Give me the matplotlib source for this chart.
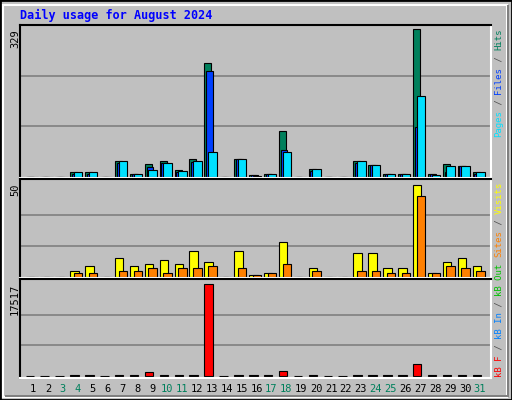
import matplotlib
matplotlib.use("Agg")
from matplotlib import pyplot as plt
from matplotlib.patches import Rectangle
import numpy as np

days = list(range(1, 32))
weekend = [3, 4, 10, 11, 17, 18, 24, 25, 31]

hits  = [0,0,0,10,10,0,34,7,28,34,14,39,253,0,39,3,7,103,0,16,0,0,36,25,7,7,329,5,28,23,10]
files = [0,0,0,7,5,0,30,5,21,30,10,32,235,0,39,3,5,59,0,12,0,0,30,25,7,7,110,5,10,23,7]
pages = [0,0,0,10,10,0,34,7,14,30,12,34,54,0,39,2,5,54,0,16,0,0,36,25,7,7,179,4,23,23,10]
visits = [0,0,0,3,6,0,10,6,7,9,7,14,8,0,14,1,2,19,0,5,0,0,13,13,5,5,50,2,8,10,6]
sites  = [0,0,0,2,2,0,3,3,5,2,5,5,6,0,5,1,2,7,0,3,0,0,3,3,2,2,44,2,6,5,3]
kbytes = [0,0,0,150,150,0,150,150,640,150,150,150,17517,0,150,150,150,830,0,150,0,0,150,150,150,150,2240,150,150,150,150]

W, H = 512, 400
fig = plt.figure(figsize=(5.12, 4.0), dpi=100)
fig.patch.set_facecolor("#C0C0C0")
mono = "DejaVu Sans Mono"

# bevelled outer frame
fig.patches.append(Rectangle((0, 0), 1, 1, transform=fig.transFigure, fill=False, ec="black", lw=2))
fig.patches.append(Rectangle((3/W, 3/H), 1-8/W, 1-8/H, transform=fig.transFigure, fill=False, ec="white", lw=1.5))
fig.patches.append(Rectangle((5/W, 3/H), 1-8/W, 2/H, transform=fig.transFigure, color="#808080", lw=0))
fig.patches.append(Rectangle((1-5/W, 3/H), 2/W, 1-8/H, transform=fig.transFigure, color="#808080", lw=0))

x0, x1 = 20, 491
def day_x(px):
    return 1 + (px - 33) / 14.9
xlim = (day_x(x0), day_x(x1))

def make_ax(top, bottom, ylim, grid):
    ax = fig.add_axes([x0/W, (H-bottom)/H, (x1-x0)/W, (bottom-top)/H])
    ax.set_facecolor("#C0C0C0")
    ax.set_xlim(*xlim)
    ax.set_ylim(*ylim)
    ax.set_xticks([]); ax.set_yticks([])
    for g in grid:
        ax.axhline(g, color="#808080", lw=1.2, zorder=0)
    ax.spines["top"].set_color("black"); ax.spines["left"].set_color("black")
    ax.spines["bottom"].set_color("white"); ax.spines["right"].set_color("white")
    for s in ax.spines.values():
        s.set_linewidth(1.5)
    return ax

d = np.array(days)
ax1 = make_ax(25, 178, (-3, 338.6), [112, 224])
ax1.bar(d - 0.5, hits, width=0.47, align="edge", color="#00805C", ec="black", lw=0.8)
ax1.bar(d - 0.38, files, width=0.45, align="edge", color="#0040FF", ec="black", lw=0.8)
ax1.bar(d - 0.25, pages, width=0.57, align="edge", color="#00E0FF", ec="black", lw=0.8)

ax2 = make_ax(179, 278, (-0.7, 53.1), [16.7, 33.3])
ax2.bar(d - 0.5, visits, width=0.57, align="edge", color="#FFFF00", ec="black", lw=0.8)
ax2.bar(d - 0.25, sites, width=0.57, align="edge", color="#FF8000", ec="black", lw=0.8)

ax3 = make_ax(279, 378, (-441, 18534), [5839, 11678])
ax3.bar(d - 0.5, kbytes, width=0.57, align="edge", color="#FF0000", ec="black", lw=0.8)

fig.text(20/W, 1-15/H, "Daily usage for August 2024", family=mono, weight="bold",
         color="#0000FF", fontsize=8.5, va="center", ha="left")

for val, ytop in [("329", 29), ("50", 184), ("17517", 284)]:
    fig.text(15/W, 1-ytop/H, val, family=mono, fontsize=7.5, rotation=90,
             ha="center", va="top")

for day in days:
    c = "#00805C" if day in weekend else "black"
    fig.text((33 + 14.9*(day-1))/W, 1-389/H, str(day), family=mono, fontsize=7.5,
             color=c, ha="center", va="center")

def side_label(parts, ybottom):
    cw = 5.42
    y = ybottom
    for txt, col in parts:
        fig.text(499/W, 1-y/H, txt, family=mono, fontsize=6.5, rotation=90,
                 color=col, ha="center", va="bottom")
        y -= cw * len(txt)

side_label([("Pages", "#00E0FF"), (" / ", "#505050"), ("Files", "#0040FF"),
            (" / ", "#505050"), ("Hits", "#00805C")], 137)
side_label([("Sites", "#FF8000"), (" / ", "#505050"), ("Visits", "#FFFF00")], 257)
side_label([("kB F", "#FF0000"), (" / ", "#505050"), ("kB In", "#0080FF"),
            (" / ", "#505050"), ("kB Out", "#00C000")], 377)

fig.savefig("out.png", dpi=100, facecolor=fig.get_facecolor())
